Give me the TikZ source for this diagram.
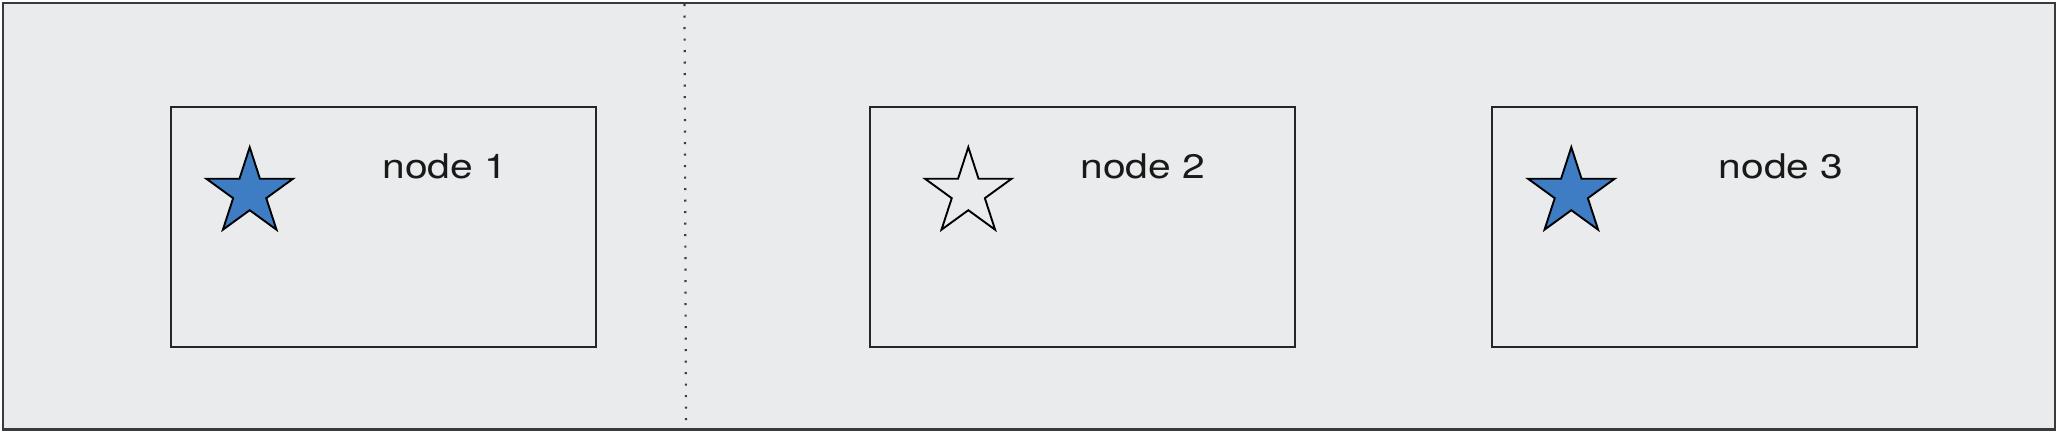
\documentclass[tikz,border=0pt]{standalone}
\usepackage{fontspec}
\setmainfont{TeX Gyre Heros}
\usetikzlibrary{shapes.geometric}
\definecolor{panelbg}{HTML}{E9EBEC}
\definecolor{starblue}{HTML}{3E7DC3}
\definecolor{framegray}{HTML}{3A3A3A}
\definecolor{dotgray}{HTML}{3C3C3C}
\tikzset{
  panel/.style={draw=framegray, line width=1.25pt, fill=panelbg},
  nodebox/.style={draw=black!85, line width=1pt, rectangle, minimum width=212.5pt, minimum height=120.25pt, inner sep=0pt},
  starshape/.style={star, star points=5, star point ratio=2.62, minimum size=45.6pt, inner sep=0pt, draw=black, line width=0.95pt},
  filledstar/.style={starshape, fill=starblue},
  emptystar/.style={starshape},
  label/.style={font=\fontsize{17pt}{19pt}\selectfont, text=black!90, anchor=base, inner sep=0pt, xscale=1.2},
  divider/.style={draw=dotgray, line width=1.1pt, dash pattern=on 1.1pt off 4.65pt}
}
\begin{document}
\begin{tikzpicture}[x=0.5pt,y=-0.5pt]
  \useasboundingbox (0,0) rectangle (2060,434);
  \fill[white] (0,0) rectangle (2060,434);
  \path[panel] (3,3) rectangle (2055,429.5);
  \coordinate (divtop) at (684.5,4);
  \coordinate (divbot) at (686,428);
  \draw[divider] (divtop) -- (divbot);

  \node[nodebox] (box1) at (383.5,226.8) {};
  \node[nodebox] (box2) at (1082.5,226.8) {};
  \node[nodebox] (box3) at (1704.5,226.8) {};

  \node[filledstar] (star1) at (249.7,192.8) {};
  \node[emptystar] (star2) at (968.3,192.8) {};
  \node[filledstar] (star3) at (1571.3,192.8) {};

  \node[label] (lab1) at (445,178) {node 1};
  \node[label] (lab2) at (1142.7,178) {node 2};
  \node[label] (lab3) at (1781,178) {node 3};
\end{tikzpicture}
\end{document}
